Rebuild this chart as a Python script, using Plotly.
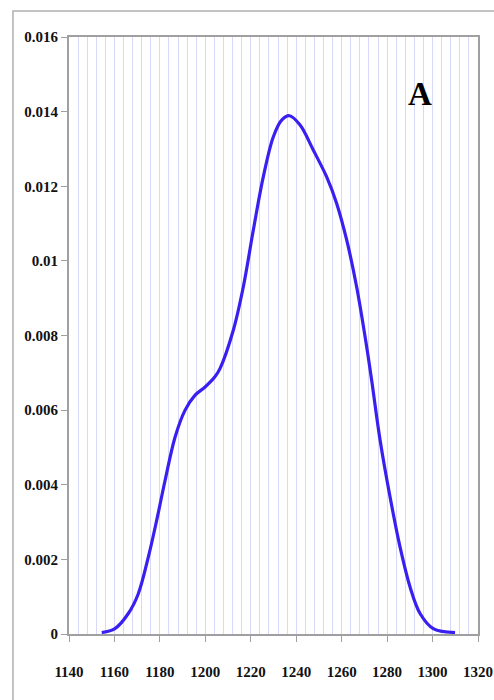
import plotly.graph_objects as go

# Density curve samples (x value, density)
x_vals = [1154.4, 1160.2, 1166.1, 1170.5, 1174.9, 1178.6, 1182.3, 1186.7, 1191.1,
          1195.5, 1199.9, 1204.3, 1206.5, 1212.3, 1216.7, 1221.1, 1225.5, 1229.9,
          1233.6, 1237.0, 1241.7, 1247.5, 1253.4, 1257.8, 1262.2, 1266.6, 1271.0,
          1273.2, 1276.9, 1281.3, 1285.7, 1290.1, 1294.5, 1300.3, 1309.9]
density = [0.00004, 0.000145, 0.00055, 0.00108, 0.00206, 0.00305, 0.00412, 0.00528, 0.0060,
           0.0064, 0.00662, 0.0069, 0.00712, 0.00814, 0.0093, 0.01082, 0.01225, 0.01332,
           0.01377, 0.01389, 0.01364, 0.01297, 0.01225, 0.01154, 0.01056, 0.0093, 0.0077,
           0.0068, 0.0052, 0.00367, 0.00233, 0.00126, 0.00055, 0.000145, 0.00004]

x_ticks = [1140, 1160, 1180, 1200, 1220, 1240, 1260, 1280, 1300, 1320]
y_ticks = [0, 0.002, 0.004, 0.006, 0.008, 0.01, 0.012, 0.014, 0.016]
y_tick_text = ["0", "0.002", "0.004", "0.006", "0.008", "0.01", "0.012", "0.014", "0.016"]
panel_label = "A"

tick_font = dict(family="Liberation Serif, Times New Roman, serif",
                 size=15, color="#111111", weight="bold")
axis_gray = "#a0a0a0"
grid_color = "#d8d8f8"

fig = go.Figure()
fig.add_trace(go.Scatter(
    x=x_vals, y=density, mode="lines",
    line=dict(color="#3a20f0", width=3.2, shape="spline", smoothing=1.0),
    hoverinfo="skip", showlegend=False,
))

fig.update_xaxes(
    range=[1140, 1320], tickmode="array", tickvals=x_ticks,
    ticktext=[str(v) for v in x_ticks],
    showgrid=True, gridcolor=grid_color, gridwidth=1,
    minor=dict(dtick=4, tick0=1140, showgrid=True, gridcolor=grid_color, gridwidth=1),
    showline=True, linecolor=axis_gray, linewidth=2, mirror=True,
    ticks="outside", ticklen=6, tickcolor=axis_gray, tickwidth=1,
    ticklabelstandoff=17, ticklabeloverflow="allow", tickfont=tick_font,
    zeroline=False, automargin=False,
)
fig.update_yaxes(
    range=[0, 0.016], tickmode="array", tickvals=y_ticks, ticktext=y_tick_text,
    showgrid=False, zeroline=False,
    showline=True, linecolor=axis_gray, linewidth=2, mirror=True,
    ticks="outside", ticklen=6, tickcolor=axis_gray, tickwidth=1,
    tickfont=tick_font, automargin=False,
)

# Panel letter
fig.add_annotation(
    x=0.859, y=0.905, xref="paper", yref="paper", text="<b>" + panel_label + "</b>",
    showarrow=False,
    font=dict(family="Liberation Serif, Times New Roman, serif", size=33, color="#000000"),
    xanchor="center", yanchor="middle",
)

# Outer frame around the figure (runs off the right and bottom edges)
fig.add_shape(
    type="rect", xref="paper", yref="paper",
    x0=-0.137, x1=1.06, y0=-0.13, y1=1.0436,
    line=dict(color="#b0b0b0", width=1.5), fillcolor="rgba(0,0,0,0)", layer="below",
)

fig.update_layout(
    width=494, height=700,
    margin=dict(l=69, r=16, t=37, b=66),
    paper_bgcolor="white", plot_bgcolor="white",
)

fig.write_html("out.html")
